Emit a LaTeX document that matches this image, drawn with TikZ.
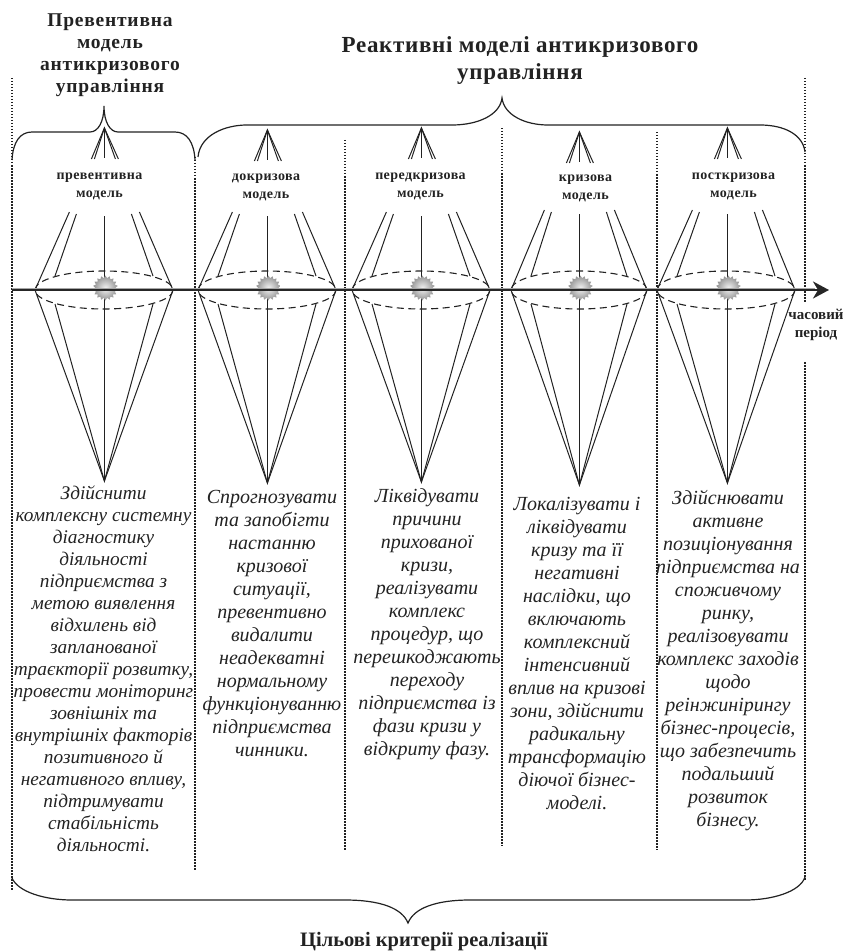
\documentclass[tikz,border=0pt]{standalone}
\usepackage{fontspec}
\setmainfont{Liberation Serif}
\usetikzlibrary{shapes.geometric,arrows.meta}
\definecolor{ink}{HTML}{222222}
\tikzset{
  thinline/.style={draw=ink,line width=1pt},
  dashline/.style={draw=ink,line width=1.1pt,dash pattern=on 7pt off 4.5pt},
  dotline/.style={draw=ink,line width=1.6pt,dash pattern=on 1.5pt off 1.5pt},
  bracket/.style={draw=ink,line width=1.2pt},
  burst/.style={star,star points=18,star point ratio=1.25,minimum size=25pt,inner sep=0pt,draw=none,shade,inner color=white!90!gray,outer color=gray!85},
  title/.style={font=\fontsize{19.5}{22}\selectfont\bfseries\addfontfeature{LetterSpace=4},text=ink,align=center,inner sep=0pt},
  bigtitle/.style={font=\fontsize{23}{27}\selectfont\bfseries\addfontfeature{LetterSpace=3},text=ink,align=center,inner sep=0pt},
  small/.style={font=\fontsize{14}{18}\selectfont\bfseries\addfontfeature{LetterSpace=3},text=ink,align=center,inner sep=0pt},
  body/.style={font=\fontsize{20}{23}\selectfont\itshape,text=ink,align=center,inner sep=0pt,anchor=north},
}
\begin{document}
\begin{tikzpicture}[x=1pt,y=-1pt]
\useasboundingbox (0,0) rectangle (844,952);
% dotted dividers
\coordinate (d0a) at (12,78);  \coordinate (d0b) at (12,890);
\coordinate (d1a) at (195,157);\coordinate (d1b) at (195,870);
\coordinate (d2a) at (345,140);\coordinate (d2b) at (345,850);
\coordinate (d3a) at (502,128);\coordinate (d3b) at (502,846);
\coordinate (d4a) at (657,132);\coordinate (d4b) at (657,850);
\coordinate (d5a) at (805,78); \coordinate (d5b) at (805,303);
\coordinate (d5c) at (805,362);\coordinate (d5d) at (805,880);
\foreach \p/\q in {d0a/d0b,d1a/d1b,d2a/d2b,d3a/d3b,d4a/d4b,d5a/d5b,d5c/d5d}
  \draw[dotline] (\p) -- (\q);
% model units: index / centre / left / right / fan apex / tip / top of upper lines / label x / label y
\foreach \n/\c/\l/\r/\a/\t/\u/\lx/\ly/\txt in {
  1/104.4/35/173/128/481/212/99.5/186/{превентивна\\модель},
  2/267.4/198/336/130/483/212/266/187.5/{докризова\\модель},
  3/421.4/352/490/128/482/212/420.5/186.5/{передкризова\\модель},
  4/579.4/511/647/132/485/210/585.5/188.5/{кризова\\модель},
  5/727.4/657/795/128/483/210/733.5/186.5/{посткризова\\модель}} {
  \coordinate (L\n) at (\l,290);
  \coordinate (R\n) at (\r,290);
  \coordinate (T\n) at (\c,\t);
  \coordinate (A\n) at (\c,\a);
  \coordinate (C\n) at (\c,290);
  % centre line and lower cone
  \draw[thinline] (\c,\u+4) -- (T\n);
  \draw[thinline] (L\n) -- (T\n) -- (R\n);
  \draw[thinline] (\l+20,304) -- (T\n) -- (\r-20,304);
  % upper lines
  \draw[thinline] (L\n) -- (\c-35,\u);
  \draw[thinline] (\l+20,276) -- (\c-28,\u+2);
  \draw[thinline] (R\n) -- (\c+35,\u);
  \draw[thinline] (\r-20,276) -- (\c+27,\u+2);
  % ellipse
  \draw[dashline] ({(\l+\r)/2},290) ellipse [x radius={(\r-\l)/2},y radius=19];
  % small fan
  \draw[thinline] (\c-13,\a+31) -- (A\n) -- (\c+14,\a+31);
  \draw[thinline] (\c-10,\a+31) -- (A\n) -- (\c+11,\a+31);
  \draw[thinline] (A\n) -- (\c,\a+30);
  % starburst
  \node[burst] (star\n) at (\c+1,288) {};
  \node[small] (lab\n) at (\lx,\ly) {\txt};
}
% time axis
\coordinate (axA) at (12,290);
\coordinate (axB) at (829,290);
\draw[draw=gray!70,line width=1.5pt] (12,288.5) -- (815,288.5);
\draw[draw=black!85,line width=2.4pt,-{Stealth[length=16pt,width=17pt,inset=5pt]}] (axA) -- (axB);
\node[small,font=\fontsize{15}{18}\selectfont\bfseries] (timelab) at (816,325) {часовий\\період};
% braces
\coordinate (b1a) at (12,160); \coordinate (b1c) at (104,106); \coordinate (b1z) at (195,160);
\draw[bracket] (b1a) .. controls (13,142) and (20,132) .. (32,132) -- (90,132)
  .. controls (98,132) and (104,122) .. (b1c) .. controls (104,122) and (110,132) .. (118,132)
  -- (175,132) .. controls (187,132) and (194,142) .. (b1z);
\coordinate (b2a) at (198,157); \coordinate (b2c) at (502,98); \coordinate (b2z) at (805,152);
\draw[bracket] (b2a) .. controls (200,135) and (225,125) .. (247,125) -- (452,125)
  .. controls (478,125) and (500,115) .. (b2c) .. controls (504,115) and (525,125) .. (548,125)
  -- (760,125) .. controls (785,125) and (803,135) .. (b2z);
\coordinate (b3a) at (12,878); \coordinate (b3c) at (408,923); \coordinate (b3z) at (805,877);
\draw[bracket] (b3a) .. controls (18,892) and (45,900) .. (72,900) -- (345,900)
  .. controls (380,900) and (402,908) .. (b3c) .. controls (414,908) and (436,900) .. (470,900)
  -- (745,900) .. controls (772,900) and (800,892) .. (b3z);
% titles
\node[title] (tA) at (110,55.5) {Превентивна\\модель\\антикризового\\управління};
\node[bigtitle] (tB) at (520,60.5) {Реактивні моделі антикризового\\управління};
\node[font=\fontsize{20.5}{22}\selectfont\bfseries,text=ink,inner sep=0pt] (tC) at (424,941.5) {Цільові критерії реалізації};
% body text
\node[body,font=\fontsize{19.3}{22}\selectfont\itshape] (x1) at (103.5,484) {\strut Здійснити\\комплексну системну\\діагностику\\діяльності\\підприємства з\\метою виявлення\\відхилень від\\запланованої\\траєкторії розвитку,\\провести моніторинг\\зовнішніх та\\внутрішніх факторів\\позитивного й\\негативного впливу,\\підтримувати\\стабільність\\діяльності.};
\node[body] (x2) at (272,487) {\strut Спрогнозувати\\та запобігти\\настанню\\кризової\\ситуації,\\превентивно\\видалити\\неадекватні\\нормальному\\функціонуванню\\підприємства\\чинники.};
\node[body] (x3) at (427,486) {\strut Ліквідувати\\причини\\прихованої\\кризи,\\реалізувати\\комплекс\\процедур, що\\перешкоджають\\переходу\\підприємства із\\фази кризи у\\відкриту фазу.};
\node[body] (x4) at (577,494) {\strut Локалізувати і\\ліквідувати\\кризу та її\\негативні\\наслідки, що\\включають\\комплексний\\інтенсивний\\вплив на кризові\\зони, здійснити\\радикальну\\трансформацію\\діючої бізнес-\\моделі.};
\node[body] (x5) at (728,488) {\strut Здійснювати\\активне\\позиціонування\\підприємства на\\споживчому\\ринку,\\реалізовувати\\комплекс заходів\\щодо\\реінжинірингу\\бізнес-процесів,\\що забезпечить\\подальший\\розвиток\\бізнесу.};
\end{tikzpicture}
\end{document}
